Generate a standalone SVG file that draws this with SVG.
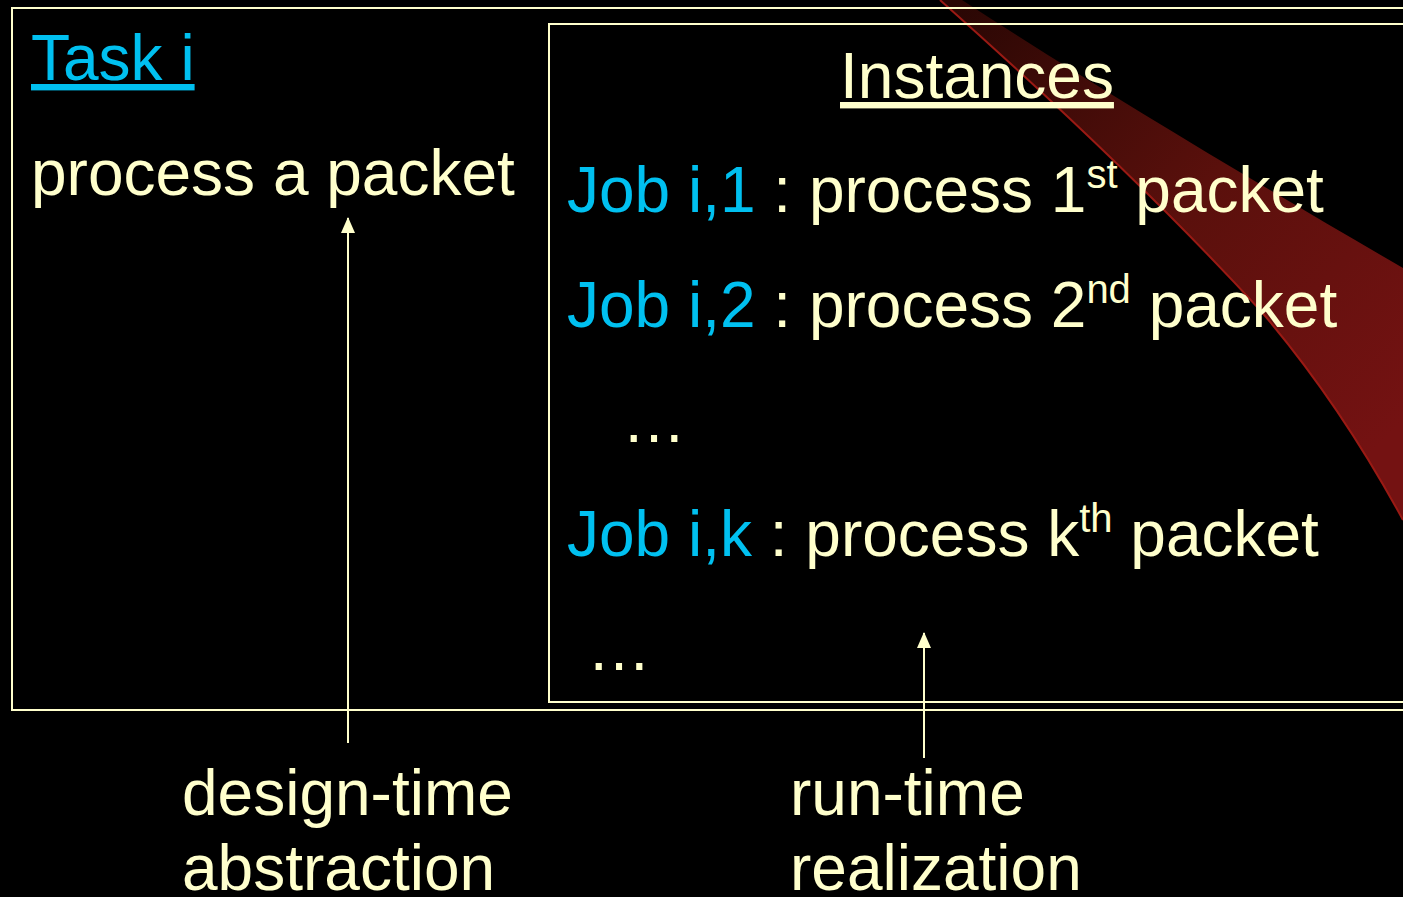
<svg xmlns="http://www.w3.org/2000/svg" width="1403" height="897" viewBox="0 0 1403 897">
  <defs>
    <linearGradient id="swooshFill" x1="960" y1="0" x2="1403" y2="420" gradientUnits="userSpaceOnUse">
      <stop offset="0" stop-color="#2a0704"/>
      <stop offset="0.5" stop-color="#5a100c"/>
      <stop offset="1" stop-color="#741212"/>
    </linearGradient>
    <marker id="arrowHead" viewBox="0 0 16 14" refX="15" refY="7" markerWidth="16" markerHeight="14" markerUnits="userSpaceOnUse" orient="auto">
      <path d="M16 7 L0 0 L0 14 Z" fill="#FFFFCC"/>
    </marker>
    <style>
      text { font-family: "Liberation Sans", Arial, sans-serif; font-size: 64px; fill: #FFFFCC; }
      .cyan { fill: #00C0F0; }
      .frame { fill: none; stroke: #FFFFCC; stroke-width: 2; }
      .link { stroke: #FFFFCC; stroke-width: 2; fill: none; }
      .sup { font-size: 40px; }
    </style>
  </defs>

  <!-- background -->
  <rect width="1403" height="897" fill="#000000"/>

  <!-- decorative red swoosh -->
  <path d="M940 0 C1030 80 1150 190 1260 310 C1320 380 1365 450 1403 520 L1403 268 C1260 185 1100 90 962 0 Z" fill="url(#swooshFill)"/>
  <path d="M940 0 C1030 80 1150 190 1260 310 C1320 380 1365 450 1403 520" fill="none" stroke="#9a1a14" stroke-width="2"/>

  <!-- task box -->
  <g id="task">
    <rect class="frame" x="12" y="8" width="1400" height="702"/>
    <text class="cyan" x="31" y="80" font-size="60" text-decoration="underline">Task i</text>
    <text x="31" y="195">process a packet</text>
  </g>

  <!-- instances box -->
  <g id="instances">
    <rect class="frame" x="549" y="24" width="870" height="678"/>
    <text x="840" y="98" text-decoration="underline">Instances</text>
    <text x="567" y="212"><tspan class="cyan">Job i,1</tspan> : process 1<tspan class="sup" dy="-24">st</tspan><tspan dy="24"> packet</tspan></text>
    <text x="567" y="327"><tspan class="cyan">Job i,2</tspan> : process 2<tspan class="sup" dy="-24">nd</tspan><tspan dy="24"> packet</tspan></text>
    <text x="622" y="442">…</text>
    <text x="567" y="556"><tspan class="cyan">Job i,k</tspan> : process k<tspan class="sup" dy="-24">th</tspan><tspan dy="24"> packet</tspan></text>
    <text x="587" y="670">…</text>
  </g>

  <!-- captions -->
  <g id="design-time">
    <text x="182" y="815">design-time</text>
    <text x="182" y="890">abstraction</text>
  </g>
  <g id="run-time">
    <text x="790" y="815">run-time</text>
    <text x="790" y="890">realization</text>
  </g>

  <!-- connectors -->
  <g id="connectors">
    <line class="link" x1="348" y1="743" x2="348" y2="218" marker-end="url(#arrowHead)"/>
    <line class="link" x1="924" y1="758" x2="924" y2="633" marker-end="url(#arrowHead)"/>
  </g>
</svg>
